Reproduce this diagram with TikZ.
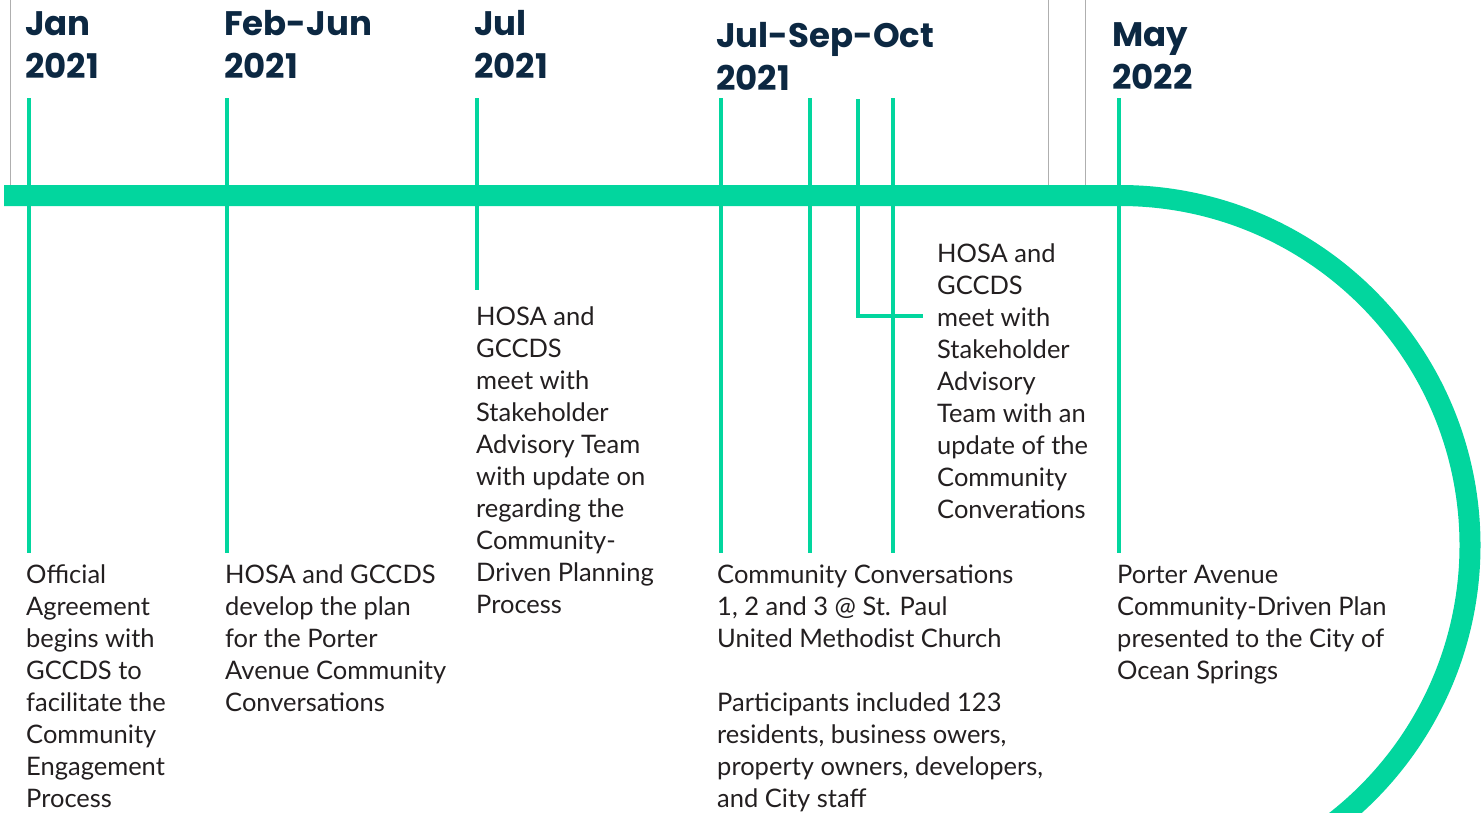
\documentclass[tikz,border=0pt]{standalone}
\usepackage{fontspec}
\newfontfamily\bodyfont{Lato}
\newfontfamily\headfont{Poppins}

\definecolor{tlgreen}{RGB}{2,214,158}
\definecolor{tlnavy}{RGB}{12,40,66}
\definecolor{tltext}{RGB}{35,31,32}
\definecolor{framegray}{RGB}{175,175,175}

% left-aligned stack of lines; the baseline is that of the first line
\newcommand\stack[1]{\vtop{\let\\\cr\halign{##\hfil\cr#1\crcr}}}

\tikzset{
  tickline/.style={draw=tlgreen, line width=4.5pt},
  mainbar/.style={draw=tlgreen, line width=21pt},
  framerule/.style={draw=framegray, line width=1pt},
  datelabel/.style={anchor=base west, inner sep=0pt, text=tlnavy,
    font=\headfont\bfseries\fontsize{34}{43}\selectfont},
  eventtext/.style={anchor=base west, inner sep=0pt, text=tltext,
    font=\bodyfont\fontsize{25.5}{32}\selectfont},
}

\begin{document}
\begin{tikzpicture}[x=1pt,y=-1pt]
\useasboundingbox (0,0) rectangle (1482,812);
\begin{scope}
\clip (0,0) rectangle (1482,812);

% thin frame rules above the bar
\coordinate (fa1) at (10,0);   \coordinate (fa2) at (10,185);
\coordinate (fb1) at (1048,0); \coordinate (fb2) at (1048,185);
\coordinate (fc1) at (1085,0); \coordinate (fc2) at (1085,185);
\draw[framerule] (fa1) -- (fa2);
\draw[framerule] (fb1) -- (fb2);
\draw[framerule] (fc1) -- (fc2);

% event ticks
\coordinate (janT) at (29,98);   \coordinate (janB) at (29,553);
\coordinate (febT) at (227,98);  \coordinate (febB) at (227,553);
\coordinate (julT) at (477,98);  \coordinate (julB) at (477,290);
\coordinate (ccAT) at (721,98);  \coordinate (ccAB) at (721,553);
\coordinate (ccBT) at (810,98);  \coordinate (ccBB) at (810,553);
\coordinate (octT) at (858,99);  \coordinate (octE) at (923,316);
\coordinate (ccCT) at (893,98);  \coordinate (ccCB) at (893,553);
\coordinate (mayT) at (1119,98); \coordinate (mayB) at (1119,553);

\draw[tickline] (janT) -- (janB);
\draw[tickline] (febT) -- (febB);
\draw[tickline] (julT) -- (julB);
\draw[tickline] (ccAT) -- (ccAB);
\draw[tickline] (ccBT) -- (ccBB);
\draw[tickline] (octT) |- (octE);
\draw[tickline] (ccCT) -- (ccCB);
\draw[tickline] (mayT) -- (mayB);

% main time bar, bending down on the right
\coordinate (barL) at (4,195.5);
\coordinate (barR) at (1120,195.5);
\draw[mainbar] (barL) -- (barR) arc[start angle=-90, end angle=60, radius=350];
\end{scope}

% dates
\node[datelabel] (dJan) at (25,35)   {\stack{Jan\\2021}};
\node[datelabel] (dFeb) at (224,35)  {\stack{Feb-Jun\\2021}};
\node[datelabel] (dJul) at (474,35)  {\stack{Jul\\2021}};
\node[datelabel] (dCC)  at (716,47)  {\stack{Jul-Sep-Oct\\2021}};
\node[datelabel] (dMay) at (1112,46) {\stack{May\\2022}};

% event descriptions
\node[eventtext] (eJan) at (26,583) {\stack{Official\\Agreement\\begins with\\GCCDS to\\facilitate the\\Community\\Engagement\\Process}};
\node[eventtext] (eFeb) at (225,583) {\stack{HOSA and GCCDS\\develop the plan\\for the Porter\\Avenue Community\\Conversations}};
\node[eventtext] (eJul) at (476,325) {\stack{HOSA and\\GCCDS\\meet with\\Stakeholder\\Advisory Team\\with update on\\regarding the\\Community-\\Driven Planning\\Process}};
\node[eventtext] (eCC) at (717,583) {\stack{Community Conversations\\1, 2 and 3 @ St. Paul\\United Methodist Church\\ \\Participants included 123\\residents, business owers,\\property owners, developers,\\and City staff}};
\node[eventtext] (eOct) at (937,262) {\stack{HOSA and\\GCCDS\\meet with\\Stakeholder\\Advisory\\Team with an\\update of the\\Community\\Converations}};
\node[eventtext] (eMay) at (1117,583) {\stack{Porter Avenue\\Community-Driven Plan\\presented to the City of\\Ocean Springs}};
\end{tikzpicture}
\end{document}
